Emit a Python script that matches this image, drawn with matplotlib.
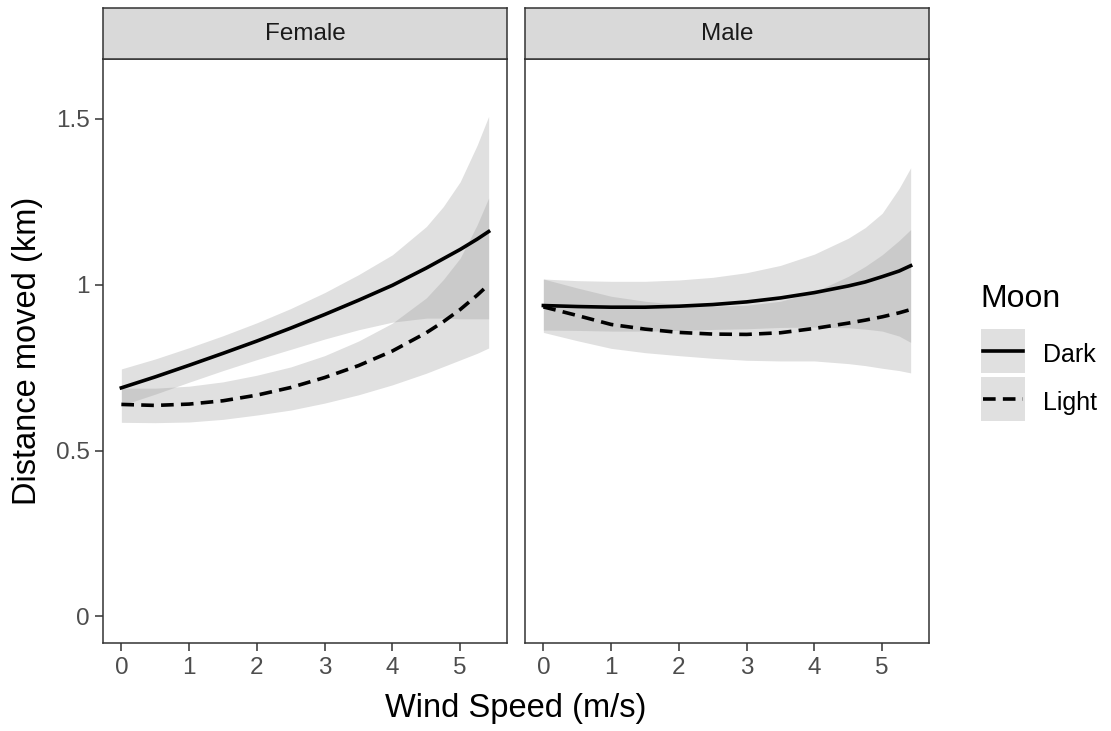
import matplotlib
matplotlib.use("Agg")
import matplotlib.pyplot as plt

plt.rcParams['font.family'] = ['Liberation Sans', 'DejaVu Sans']

# wind speed grid (m/s)
wind = [0, 0.5, 1, 1.5, 2, 2.5, 3, 3.5, 4, 4.5, 4.75, 5, 5.25, 5.42]

# Female, dark moon
f_dark_fit = [0.689, 0.722, 0.757, 0.793, 0.830, 0.869, 0.910, 0.953, 0.998, 1.050, 1.078, 1.106, 1.137, 1.160]
f_dark_hi = [0.746, 0.776, 0.810, 0.846, 0.885, 0.928, 0.976, 1.030, 1.090, 1.175, 1.235, 1.310, 1.420, 1.507]
f_dark_lo = [0.636, 0.670, 0.706, 0.741, 0.774, 0.805, 0.836, 0.864, 0.887, 0.899, 0.899, 0.897, 0.897, 0.897]
# Female, light moon
f_light_fit = [0.639, 0.636, 0.640, 0.650, 0.667, 0.690, 0.720, 0.756, 0.800, 0.855, 0.888, 0.925, 0.968, 1.000]
f_light_hi = [0.688, 0.688, 0.694, 0.707, 0.727, 0.752, 0.786, 0.830, 0.884, 0.960, 1.015, 1.080, 1.180, 1.261]
f_light_lo = [0.585, 0.584, 0.586, 0.594, 0.607, 0.622, 0.643, 0.668, 0.698, 0.733, 0.753, 0.773, 0.793, 0.809]

# Male, dark moon
m_dark_fit = [0.937, 0.934, 0.932, 0.932, 0.935, 0.940, 0.948, 0.960, 0.976, 0.996, 1.008, 1.024, 1.041, 1.057]
m_dark_hi = [1.017, 1.012, 1.010, 1.010, 1.014, 1.022, 1.036, 1.058, 1.092, 1.140, 1.172, 1.215, 1.290, 1.352]
m_dark_lo = [0.863, 0.862, 0.860, 0.860, 0.862, 0.865, 0.867, 0.871, 0.872, 0.870, 0.866, 0.860, 0.845, 0.826]
# Male, light moon
m_light_fit = [0.933, 0.907, 0.880, 0.866, 0.856, 0.851, 0.850, 0.855, 0.868, 0.884, 0.893, 0.903, 0.915, 0.925]
m_light_hi = [1.017, 0.990, 0.965, 0.950, 0.940, 0.935, 0.938, 0.950, 0.978, 1.025, 1.055, 1.090, 1.133, 1.166]
m_light_lo = [0.856, 0.831, 0.808, 0.795, 0.786, 0.778, 0.772, 0.770, 0.770, 0.762, 0.756, 0.748, 0.741, 0.734]

panels = ["Female", "Male"]
moon_levels = ["Dark", "Light"]
y_ticks = [0, 0.5, 1, 1.5]
y_ticklabels = ["0", "0.5", "1", "1.5"]
x_ticks = [0, 1, 2, 3, 4, 5]

data = {
    "Female": [(f_dark_fit, f_dark_lo, f_dark_hi), (f_light_fit, f_light_lo, f_light_hi)],
    "Male": [(m_dark_fit, m_dark_lo, m_dark_hi), (m_light_fit, m_light_lo, m_light_hi)],
}

W, H = 1111, 731
fig = plt.figure(figsize=(W / 100, H / 100), dpi=100)

border = "#333333"
ribbon = (0.6, 0.6, 0.6, 0.3)
styles = {"Dark": "-", "Light": (0, (3.5, 2))}
lw = 2.6

panel_left = [103, 525]
panel_w = 404
top, bottom = 59, 643

for i, name in enumerate(panels):
    x0 = panel_left[i]
    ax = fig.add_axes([x0 / W, 1 - bottom / H, panel_w / W, (bottom - top) / H])
    for (fit, lo, hi) in data[name]:
        ax.fill_between(wind, lo, hi, color=ribbon, linewidth=0)
    for level, (fit, lo, hi) in zip(moon_levels, data[name]):
        ax.plot(wind, fit, color="black", linestyle=styles[level], linewidth=lw)
    ax.set_xlim(-0.271, 5.691)
    ax.set_ylim(-0.08, 1.68)
    ax.set_xticks(x_ticks)
    ax.set_xticklabels([str(t) for t in x_ticks])
    ax.set_yticks(y_ticks)
    ax.tick_params(axis="both", length=5.8, width=1.1, color=border,
                   labelcolor="#4d4d4d", labelsize=17.5, pad=4)
    if i == 0:
        ax.set_yticklabels(y_ticklabels)
    else:
        ax.tick_params(axis="y", left=False, labelleft=False)
    for sp in ax.spines.values():
        sp.set_color(border)
        sp.set_linewidth(1.1)

    # facet strip
    sax = fig.add_axes([x0 / W, 1 - top / H, panel_w / W, (top - 8) / H])
    sax.set_facecolor("#d9d9d9")
    sax.set_xticks([])
    sax.set_yticks([])
    for sp in sax.spines.values():
        sp.set_color(border)
        sp.set_linewidth(1.1)
    sax.text(0.5, 0.5, name, transform=sax.transAxes, ha="center", va="center",
             fontsize=17.5, color="#1a1a1a")

fig.text(516 / W, 1 - 716.7 / H, "Wind Speed (m/s)", ha="center", va="baseline",
         fontsize=23.5, color="black")
fig.text(36 / W, 1 - 351 / H, "Distance moved (km)", rotation=90, rotation_mode="anchor",
         ha="center", va="baseline", fontsize=23.5, color="black")

# legend
fig.text(980 / W, 1 - 306.7 / H, "Moon", ha="left", va="baseline", fontsize=23, color="black")
key_tops = [329, 377]
for level, kt in zip(moon_levels, key_tops):
    kax = fig.add_axes([981 / W, 1 - (kt + 44) / H, 44 / W, 44 / H])
    kax.set_facecolor(ribbon)
    kax.plot([0.05, 0.95], [0.5, 0.5], color="black", linestyle=styles[level], linewidth=lw)
    kax.set_xlim(0, 1)
    kax.set_ylim(0, 1)
    kax.set_xticks([])
    kax.set_yticks([])
    for sp in kax.spines.values():
        sp.set_visible(False)
    fig.text(1043 / W, 1 - (kt + 32.7) / H, level, ha="left", va="baseline",
             fontsize=18, color="black")

fig.savefig("out.png", dpi=100, facecolor="white")
